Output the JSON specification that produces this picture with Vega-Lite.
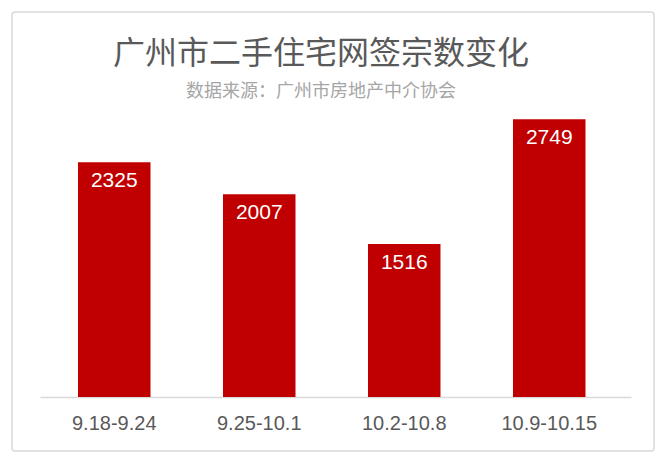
{
  "$schema": "https://vega.github.io/schema/vega-lite/v6.json",
  "width": 642,
  "height": 439,
  "autosize": {"type": "none"},
  "padding": {"left": 12, "top": 12, "right": 6, "bottom": 9},
  "background": "white",
  "title": {
    "text": "广州市二手住宅网签宗数变化",
    "subtitle": "数据来源：广州市房地产中介协会",
    "anchor": "middle",
    "offset": -90,
    "dx": -12,
    "font": "Noto Sans CJK SC",
    "fontSize": 32,
    "fontWeight": "normal",
    "color": "#595959",
    "subtitleFont": "Noto Sans CJK SC",
    "subtitleFontSize": 18,
    "subtitleColor": "#A6A6A6",
    "subtitlePadding": 12
  },
  "config": {"view": {"stroke": "#D9D9D9", "strokeWidth": 1.5, "cornerRadius": 3}},
  "data": {
    "values": [
      {"period": "9.18-9.24", "count": 2325},
      {"period": "9.25-10.1", "count": 2007},
      {"period": "10.2-10.8", "count": 1516},
      {"period": "10.9-10.15", "count": 2749}
    ]
  },
  "encoding": {
    "x": {
      "field": "period",
      "type": "nominal",
      "sort": null,
      "scale": {"range": [28, 619], "paddingInner": 0.5, "paddingOuter": 0.288, "align": 0.455},
      "axis": {
        "title": null,
        "orient": "bottom",
        "offset": -54,
        "labelAngle": 0,
        "ticks": false,
        "domainColor": "#D9D9D9",
        "domainWidth": 1.5,
        "labelFont": "Liberation Sans",
        "labelFontSize": 20,
        "labelColor": "#595959",
        "labelPadding": 16
      }
    },
    "y": {
      "field": "count",
      "type": "quantitative",
      "scale": {"domain": [0, 3000], "range": [385, 82]},
      "axis": null
    }
  },
  "layer": [
    {"mark": {"type": "bar", "color": "#C00000"}},
    {
      "mark": {"type": "text", "color": "white", "baseline": "middle", "dy": 19, "font": "Liberation Sans", "fontSize": 21},
      "encoding": {"text": {"field": "count", "type": "quantitative", "format": "d"}}
    }
  ]
}
